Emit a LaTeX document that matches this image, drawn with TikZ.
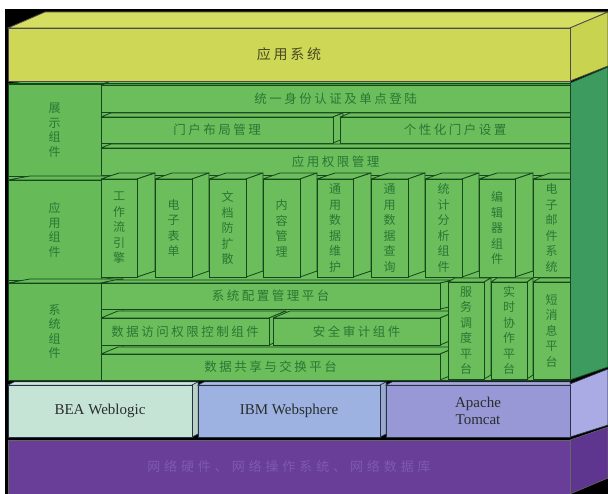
\documentclass[tikz,border=0pt]{standalone}
\usepackage{fontspec}
\setmainfont{Liberation Serif}
\newfontfamily\cjk{Noto Sans CJK SC}
\newfontfamily\cjksp[LetterSpace=20]{Noto Sans CJK SC}
\newfontfamily\cjkwide[LetterSpace=30]{Noto Sans CJK SC}
\definecolor{ylw}{RGB}{206,216,86}
\definecolor{ylwtop}{RGB}{214,222,98}
\definecolor{ylwside}{RGB}{200,212,80}
\definecolor{gfill}{RGB}{108,190,92}
\definecolor{glab}{RGB}{102,186,88}
\definecolor{gside}{RGB}{62,155,95}
\definecolor{gline}{RGB}{22,70,28}
\definecolor{gtext}{RGB}{42,118,52}
\definecolor{ytext}{RGB}{72,72,36}
\definecolor{bea}{RGB}{198,228,214}
\definecolor{ibm}{RGB}{158,178,226}
\definecolor{apache}{RGB}{152,152,214}
\definecolor{mwside}{RGB}{170,170,228}
\definecolor{mwline}{RGB}{40,50,70}
\definecolor{purp}{RGB}{104,62,152}
\definecolor{purpside}{RGB}{94,54,144}
\definecolor{purptext}{RGB}{126,90,176}
\tikzset{
  face/.style={fill=gfill,draw=gline,line width=0.8pt,line join=round},
  front/.style={fill=gfill,draw=gline,line width=0.8pt,inner sep=0pt,outer sep=0pt,text=gtext},
  rowtext/.style={font=\cjksp\fontsize{12.5}{14}\selectfont},
  vtext/.style={font=\cjk\fontsize{12}{15.5}\selectfont,align=center},
  labtext/.style={font=\cjk\fontsize{12}{14.5}\selectfont,align=center,fill=glab},
  mw/.style={draw=mwline,line width=0.6pt,inner sep=0pt,outer sep=0pt,text={rgb,255:red,40;green,45;blue,45},font=\fontsize{15}{17}\selectfont,align=center},
}
% [style]{name}{x1}{y1}{x2}{y2}{dx}{dy}{text}
\newcommand\tdbox[9][]{%
  \filldraw[face,#1] (#3,#4) -- (#3+#7,#4-#8) -- (#5+#7,#4-#8) -- (#5,#4) -- cycle;
  \filldraw[face,#1] (#5,#4) -- (#5+#7,#4-#8) -- (#5+#7,#6-#8) -- (#5,#6) -- cycle;
  \node[front,#1,minimum width={(#5-#3)*1pt},minimum height={(#6-#4)*1pt}] (#2) at ({(#3+#5)/2},{(#4+#6)/2}) {#9};
}
\begin{document}
\begin{tikzpicture}[x=1pt,y=-1pt]
\useasboundingbox (0,0) rectangle (608,494);
\fill[white] (0,0) rectangle (608,494);
\fill[black] (5,9) rectangle (608,494);
% ---------- top yellow
\filldraw[fill=ylwtop,draw=black!70,line width=0.8pt] (8,28) -- (45,12) -- (608,12) -- (570,28) -- cycle;
\filldraw[fill=ylwside,draw=black!70,line width=0.8pt] (570,28) -- (608,12) -- (608,66) -- (570,81) -- cycle;
\node[fill=ylw,draw=black!70,line width=0.8pt,minimum width=562pt,minimum height=53pt,inner sep=0pt,
  font=\cjksp\fontsize{14}{16}\selectfont,text=ytext] (app) at (289,54.5) {应用系统};
% ---------- green side face
\filldraw[fill=gside,draw=gline,line width=0.8pt] (570,83) -- (608,67) -- (608,367) -- (570,380) -- cycle;
% ---------- green front
\fill[gfill] (8,83) rectangle (570,380);
\begin{scope}
\clip (8,83) rectangle (570,380);
% section 1
\tdbox[fill=glab,labtext]{s1}{8}{84}{101}{176}{22}{4}{展\\示\\组\\件}
\tdbox[rowtext]{r1}{101}{85}{570}{112}{10}{4}{统一身份认证及单点登陆}
\tdbox[rowtext]{r2}{101}{117}{333}{143}{10}{4}{门户布局管理}
\tdbox[rowtext]{r3}{340}{117}{570}{143}{10}{4}{个性化门户设置}
\tdbox[rowtext]{r4}{101}{148}{570}{175}{10}{4}{应用权限管理}
% section 2
\tdbox[fill=glab,labtext]{s2}{8}{180}{101}{280}{22}{4}{应\\用\\组\\件}
\tdbox[vtext]{v1}{101}{179}{137}{277}{18}{6}{工\\作\\流\\引\\擎}
\tdbox[vtext]{v2}{155}{179}{192}{277}{17}{6}{电\\子\\表\\单}
\tdbox[vtext]{v3}{209}{179}{246}{277}{17}{6}{文\\档\\防\\扩\\散}
\tdbox[vtext]{v4}{263}{179}{300}{277}{17}{6}{内\\容\\管\\理}
\tdbox[vtext]{v5}{317}{179}{353}{277}{18}{6}{通\\用\\数\\据\\维\\护}
\tdbox[vtext]{v6}{371}{179}{408}{277}{17}{6}{通\\用\\数\\据\\查\\询}
\tdbox[vtext]{v7}{425}{179}{462}{277}{17}{6}{统\\计\\分\\析\\组\\件}
\tdbox[vtext]{v8}{479}{179}{515}{277}{18}{6}{编\\辑\\器\\组\\件}
\tdbox[vtext]{v9}{533}{179}{570}{277}{17}{6}{电\\子\\邮\\件\\系\\统}
% section 3
\tdbox[fill=glab,labtext]{s3}{8}{283}{101}{380}{22}{4}{系\\统\\组\\件}
\tdbox[rowtext]{q1}{101}{283}{440}{309}{14}{3}{系统配置管理平台}
\tdbox[rowtext]{q2}{101}{318}{269}{345}{17}{7}{数据访问权限控制组件}
\tdbox[rowtext]{q3}{273}{318}{440}{345}{17}{7}{安全审计组件}
\tdbox[rowtext]{q4}{101}{354}{440}{380}{17}{7}{数据共享与交换平台}
\tdbox[vtext]{w1}{448}{282}{484}{379}{7}{4}{服\\务\\调\\度\\平\\台}
\tdbox[vtext]{w2}{491}{282}{527}{379}{6}{4}{实\\时\\协\\作\\平\\台}
\tdbox[vtext]{w3}{533}{282}{570}{379}{7}{4}{短\\消\\息\\平\\台}
\end{scope}
\draw[gline,line width=0.8pt] (8,83) rectangle (570,380);
% ---------- middleware
\filldraw[fill=mwside,draw=mwline,line width=0.6pt] (570,384) -- (608,369) -- (608,425) -- (570,437) -- cycle;
\filldraw[fill=bea!85!white,draw=mwline,line width=0.5pt] (8,385) -- (14,382) -- (198,382) -- (192,385) -- cycle;
\filldraw[fill=bea!80!gray,draw=mwline,line width=0.5pt] (192,385) -- (198,382) -- (198,434) -- (192,437) -- cycle;
\filldraw[fill=ibm!85!white,draw=mwline,line width=0.5pt] (198,385) -- (204,382) -- (386,382) -- (380,385) -- cycle;
\filldraw[fill=ibm!80!gray,draw=mwline,line width=0.5pt] (380,385) -- (386,382) -- (386,434) -- (380,437) -- cycle;
\filldraw[fill=apache!85!white,draw=mwline,line width=0.5pt] (386,385) -- (392,382) -- (570,382) -- (570,385) -- cycle;
\node[mw,fill=bea,minimum width=184pt,minimum height=52pt] (bea) at (100,411) {BEA Weblogic};
\node[mw,fill=ibm,minimum width=182pt,minimum height=52pt] (ibm) at (289,411) {IBM Websphere};
\node[mw,fill=apache,minimum width=184pt,minimum height=52pt] (tomcat) at (478,411) {Apache\\Tomcat};
% ---------- network layer
\filldraw[fill=purpside,draw=black!60,line width=0.6pt] (570,440) -- (608,427) -- (608,478) -- (570,494) -- cycle;
\node[fill=purp,draw=black!60,line width=0.6pt,minimum width=562pt,minimum height=54pt,inner sep=0pt,
  font=\cjkwide\fontsize{13}{15}\selectfont,text=purptext] (net) at (289,467) {网络硬件、网络操作系统、网络数据库};
\end{tikzpicture}
\end{document}
